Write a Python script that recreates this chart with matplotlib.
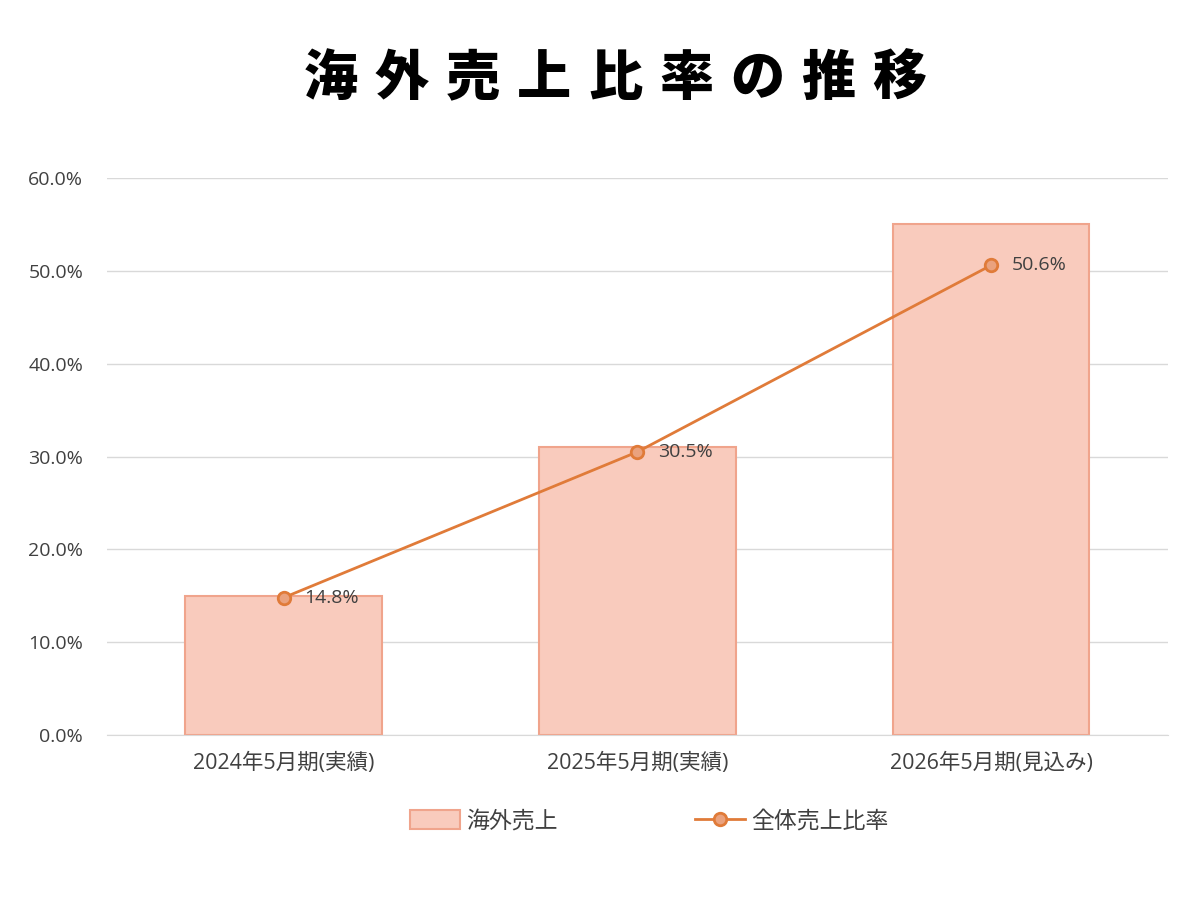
import numpy as np
import matplotlib.pyplot as plt
from matplotlib.ticker import PercentFormatter

plt.rcParams['font.family'] = ['Open Sans', 'Noto Sans CJK JP', 'DejaVu Sans']

# データ
categories = ['2024年5月期(実績)', '2025年5月期(実績)', '2026年5月期(見込み)']
overseas_sales = [15.0, 31.0, 55.0]      # 棒グラフ(海外売上, 目盛は比率軸に合わせる)
overall_ratio = [14.8, 30.5, 50.6]       # 折れ線(全体売上比率)
title = '海外売上比率の推移'

bar_face = '#f9cbbd'
bar_edge = '#f0a48c'
line_color = '#e07b39'
marker_face = '#eaa27e'
text_color = '#404040'

fig = plt.figure(figsize=(12, 9), dpi=100)
ax = fig.add_axes([0.089, 0.1833, 0.8843, 0.6189])

x = np.arange(len(categories))
ax.bar(x, overseas_sales, width=0.556, color=bar_face, edgecolor=bar_edge,
       linewidth=1.5, label='海外売上', zorder=2)
ax.plot(x, overall_ratio, color=line_color, linewidth=2, marker='o',
        markersize=9, markerfacecolor=marker_face, markeredgecolor=line_color,
        markeredgewidth=2, label='全体売上比率', zorder=3)

for xi, v in zip(x, overall_ratio):
    ax.annotate(f'{v:.1f}%', (xi, v), xytext=(15, 0), textcoords='offset points',
                va='center', ha='left', fontsize=14, color=text_color)

ax.set_xlim(-0.5, 2.5)
ax.set_ylim(0, 60)
ax.set_yticks(np.arange(0, 61, 10))
ax.yaxis.set_major_formatter(PercentFormatter(decimals=1))
ax.set_xticks(x)
ax.set_xticklabels(categories)
ax.tick_params(axis='both', length=0, labelsize=14, colors=text_color)
ax.tick_params(axis='y', pad=17)
ax.tick_params(axis='x', pad=13, labelsize=15.5)
ax.grid(axis='y', color='#d9d9d9', linewidth=1, zorder=0)
for s in ['top', 'right', 'left']:
    ax.spines[s].set_visible(False)
ax.spines['bottom'].set_color('#d9d9d9')

# タイトル(字間を広げて一文字ずつ配置)
step = 0.0592
x0 = 0.5125 - step * (len(title) - 1) / 2
for i, ch in enumerate(title):
    fig.text(x0 + i * step, 0.913, ch, ha='center', va='center',
             fontsize=39, fontweight='heavy', color='black',
             family='Noto Sans CJK JP')

handles, labels = ax.get_legend_handles_labels()
fig.legend(handles[::-1], labels[::-1], loc='center', bbox_to_anchor=(0.541, 0.087),
           ncol=2, frameon=False, fontsize=16.5, handlelength=2.2, handleheight=0.9,
           columnspacing=6.0, labelcolor=text_color, handletextpad=0.25)

fig.savefig('out.png', dpi=100, facecolor='white')
